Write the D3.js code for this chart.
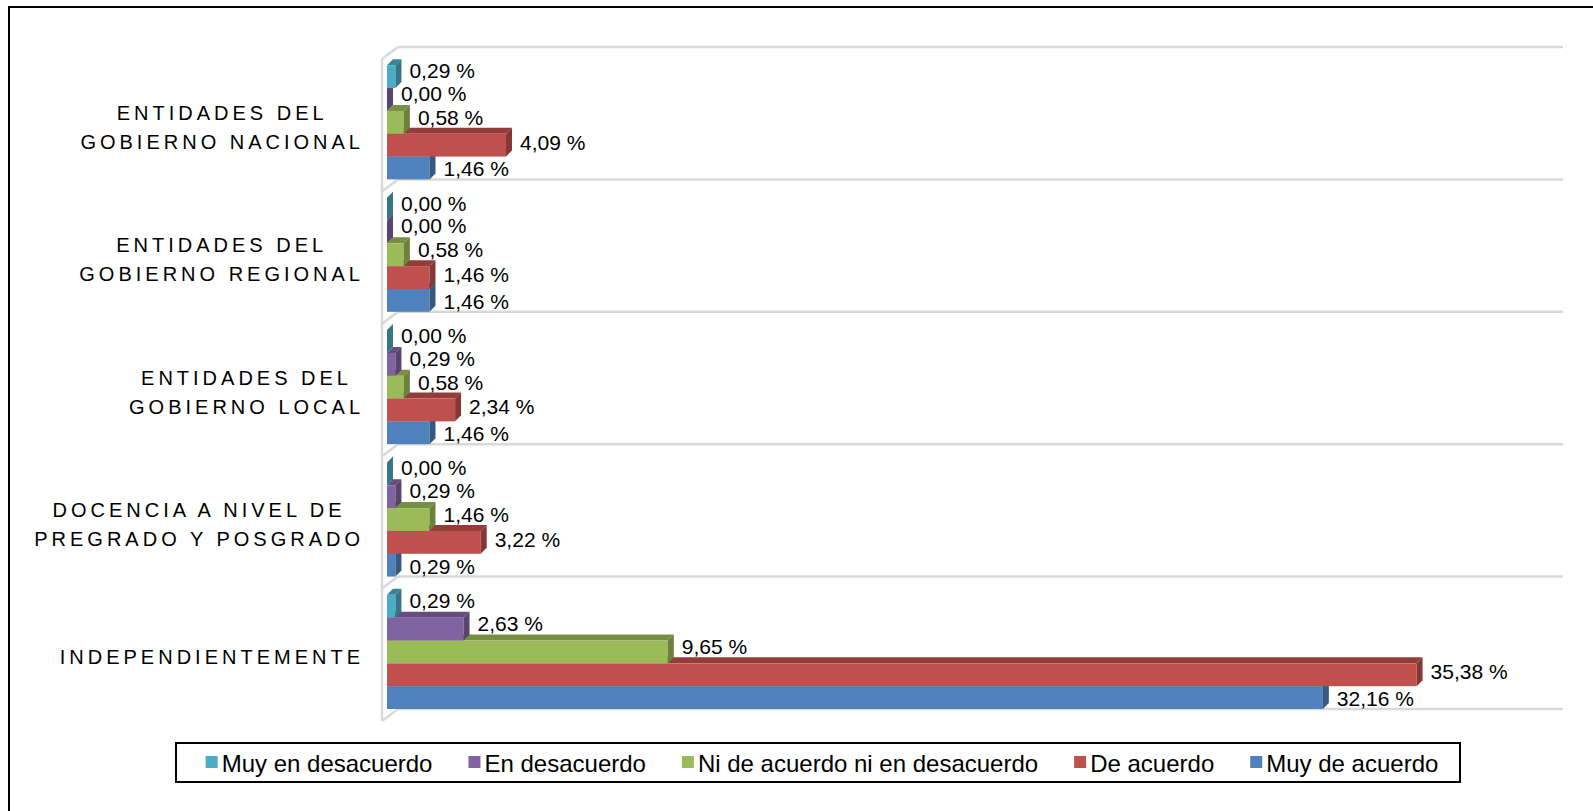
<!DOCTYPE html>
<html>
<head>
<meta charset="utf-8">
<script src="https://cdn.jsdelivr.net/npm/d3@7/dist/d3.min.js"></script>
<style>
  html, body { margin: 0; padding: 0; background: #fff; }
  svg { display: block; font-family: Arial, "Liberation Sans", sans-serif; }
</style>
</head>
<body>
<svg id="chart" width="1593" height="811"></svg>
<script>
// Category labels (one entry per line of each label)
const categories = [
  ["ENTIDADES DEL", "GOBIERNO NACIONAL"],
  ["ENTIDADES DEL", "GOBIERNO REGIONAL"],
  ["ENTIDADES DEL", "GOBIERNO LOCAL"],
  ["DOCENCIA A NIVEL DE", "PREGRADO Y POSGRADO"],
  ["INDEPENDIENTEMENTE"]
];

// Response series, in legend order
const seriesNames = ["Muy en desacuerdo", "En desacuerdo", "Ni de acuerdo ni en desacuerdo", "De acuerdo", "Muy de acuerdo"];
const seriesColors = ["#4BACC6", "#8064A2", "#9BBB59", "#C0504D", "#4F81BD"];

// Percentages per category (same order as categories)
const muyEnDesacuerdo = [0.29, 0.00, 0.00, 0.00, 0.29];
const enDesacuerdo    = [0.00, 0.00, 0.29, 0.29, 2.63];
const niDeAcuerdo     = [0.58, 0.58, 0.58, 1.46, 9.65];
const deAcuerdo       = [4.09, 1.46, 2.34, 3.22, 35.38];
const muyDeAcuerdo    = [1.46, 1.46, 1.46, 0.29, 32.16];

const seriesValues = [muyEnDesacuerdo, enDesacuerdo, niDeAcuerdo, deAcuerdo, muyDeAcuerdo];
const xDomain = [0, 40];

const svg = d3.select("#chart");

// outer frame
svg.append("rect")
  .attr("x", 9).attr("y", 7).attr("width", 1700).attr("height", 900)
  .attr("fill", "none").attr("stroke", "#000").attr("stroke-width", 2);

const x = d3.scaleLinear().domain(xDomain).range([387, 1551]);
const y = d3.scaleBand().domain(d3.range(categories.length)).range([47, 709]).padding(0);
const bw = y.bandwidth();
const yInner = d3.scaleBand().domain(seriesNames).range([bw * 0.138, bw]).padding(0);

// 3D wall geometry
const wallBackX = 398, wallFrontX = 382, wallDy = 12;
const wallRight = x(xDomain[1]) + 12;
const wallColor = "#d9d9d9";
const walls = svg.append("g").attr("fill", "none").attr("stroke", wallColor).attr("stroke-width", 2.5);
const boundaries = d3.range(categories.length + 1).map(i => y.range()[0] + i * y.step());
boundaries.forEach(b => {
  walls.append("line").attr("x1", wallBackX).attr("x2", wallRight).attr("y1", b).attr("y2", b);
  walls.append("line").attr("x1", wallBackX).attr("y1", b).attr("x2", wallFrontX).attr("y2", b + wallDy);
});
walls.append("line")
  .attr("x1", wallFrontX).attr("x2", wallFrontX)
  .attr("y1", boundaries[0] + wallDy).attr("y2", boundaries[boundaries.length - 1] + wallDy);

// bars with depth
const dx = 6, dy = 6;
const fmt = v => d3.format(".2f")(v).replace(".", ",") + " %";
const labelShift = [-6, -6, -5, -3, 1];

const bars = svg.append("g");
const labels = svg.append("g").attr("font-size", 21).attr("fill", "#000");

categories.forEach((cat, ci) => {
  // draw from the bottom bar upward so upper bars cover the lower tops
  for (let si = seriesNames.length - 1; si >= 0; si--) {
    const v = seriesValues[si][ci];
    const base = d3.color(seriesColors[si]);
    const x0 = x(0), x1 = x(v);
    const y0 = y(ci) + yInner(seriesNames[si]);
    const h = yInner.bandwidth();
    const g = bars.append("g");
    g.append("polygon")
      .attr("points", [[x0, y0], [x0 + dx, y0 - dy], [x1 + dx, y0 - dy], [x1, y0]].join(" "))
      .attr("fill", base.darker(0.75));
    g.append("rect")
      .attr("x", x0).attr("y", y0).attr("width", x1 - x0).attr("height", h)
      .attr("fill", base);
    g.append("polygon")
      .attr("points", [[x1, y0], [x1 + dx, y0 - dy], [x1 + dx, y0 + h - dy], [x1, y0 + h]].join(" "))
      .attr("fill", base.darker(1.05));
    labels.append("text")
      .attr("x", x1 + 14)
      .attr("y", y0 + h / 2 + labelShift[si])
      .attr("dominant-baseline", "central")
      .text(fmt(v));
  }
});

// category labels on the left
const catG = svg.append("g").attr("font-size", 20).attr("letter-spacing", "4px").attr("fill", "#000");
categories.forEach((lines, ci) => {
  const cy = y(ci) + bw / 2 + 14;
  const lineH = 29;
  const texts = lines.map((ln, li) => catG.append("text")
    .attr("y", cy + (li - (lines.length - 1) / 2) * lineH)
    .attr("dominant-baseline", "central")
    .attr("text-anchor", "middle")
    .text(ln));
  const maxW = d3.max(texts, t => t.node().getComputedTextLength());
  texts.forEach(t => t.attr("x", 362 - maxW / 2 + 2));
});

// legend
const legend = svg.append("g");
legend.append("rect")
  .attr("x", 176).attr("y", 743).attr("width", 1284).attr("height", 39)
  .attr("fill", "#fff").attr("stroke", "#000").attr("stroke-width", 2);
const legItems = legend.append("g").attr("font-size", 24);
const legGap = 36;
let lx = 0;
seriesNames.forEach((name, i) => {
  const it = legItems.append("g").attr("transform", `translate(${lx},0)`);
  it.append("rect").attr("x", 0).attr("y", 756).attr("width", 12).attr("height", 12).attr("fill", seriesColors[i]);
  const t = it.append("text").attr("x", 16).attr("y", 763).attr("dominant-baseline", "central").text(name);
  lx += 16 + t.node().getComputedTextLength() + legGap;
});
const totalW = lx - legGap;
legItems.attr("transform", `translate(${822 - totalW / 2},0)`);
</script>
</body>
</html>
